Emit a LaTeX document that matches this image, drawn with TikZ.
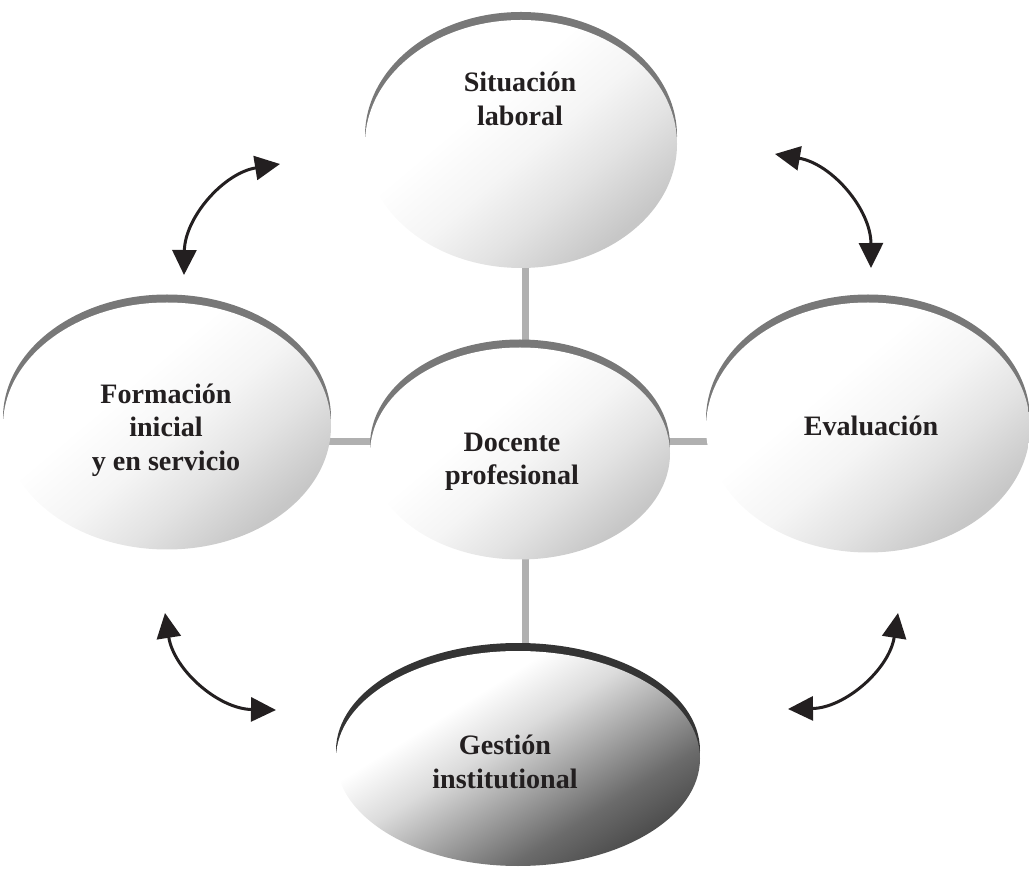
\documentclass[tikz,border=0pt]{standalone}
\usepackage{fontspec}
\setmainfont{Liberation Serif}
\usetikzlibrary{arrows.meta, shapes.geometric, backgrounds}

\definecolor{inkblack}{RGB}{35,31,32}
\definecolor{rimgray}{RGB}{120,120,120}
\definecolor{rimdark}{RGB}{52,52,52}
\definecolor{linkgray}{RGB}{176,176,176}

% soft and deep fills for the ovals
\pgfdeclarehorizontalshading{ovallight}{100bp}{color(0bp)=(white); color(40bp)=(white); color(52bp)=(black!4); color(62bp)=(black!11); color(74bp)=(black!22); color(100bp)=(black!22)}
\pgfdeclarehorizontalshading{ovaldeep}{100bp}{color(0bp)=(white); color(36bp)=(white); color(46bp)=(black!14); color(56bp)=(black!36); color(66bp)=(black!58); color(76bp)=(black!72); color(100bp)=(black!72)}

\tikzset{
    % Shaded ovals with a dark rim along the top
    oval/.style={ellipse, inner sep=0pt, shade, shading=ovallight, shading angle=-50,
                 preaction={fill=#1, transform canvas={yshift=0.16cm}}},
    oval/.default=rimgray,
    % Labels inside the ovals
    ovaltext/.style={font=\fontsize{16}{19}\selectfont\bfseries, text=inkblack, align=center},
    % Spokes to the centre oval
    link/.style={line width=0.14cm, color=linkgray},
    % Curved two-way arrows
    twoway/.style={{Triangle[length=0.5cm, width=0.48cm]}-{Triangle[length=0.5cm, width=0.48cm]},
                   line width=0.06cm, color=inkblack},
}

\begin{document}
\begin{tikzpicture}
\useasboundingbox (0,0) rectangle (20.58,17.4);

% ============================================================
% Ovals
% ============================================================
\node[oval, minimum width=6.24cm, minimum height=4.96cm] (situacion) at (10.42,14.52) {};
\node[oval, minimum width=6.0cm, minimum height=4.24cm] (docente) at (10.4,8.33) {};
\node[oval, minimum width=6.56cm, minimum height=4.94cm] (formacion) at (3.34,8.88) {};
\node[oval, minimum width=6.48cm, minimum height=5.0cm] (evaluacion) at (17.36,8.85) {};
\node[oval=rimdark, shading=ovaldeep, shading angle=-58, minimum width=7.28cm, minimum height=4.3cm] (gestion) at (10.36,2.23) {};

% Labels
\node[ovaltext] (situacion-txt) at (10.4,15.42) {Situación\\laboral};
\node[ovaltext] (docente-txt) at (10.24,8.16) {Docente\\profesional};
\node[ovaltext] (formacion-txt) at (3.32,8.8) {Formación\\inicial\\y en servicio};
\node[ovaltext] (evaluacion-txt) at (17.42,8.88) {Evaluación};
\node[ovaltext] (gestion-txt) at (10.1,2.16) {Gestión\\institutional};

% ============================================================
% Spokes
% ============================================================
\coordinate (hub) at (10.5,8.56);
\begin{scope}[on background layer]
\draw[link] (hub |- situacion) -- (hub |- gestion);
\draw[link] (hub -| formacion) -- (hub -| evaluacion);
\end{scope}

% ============================================================
% Two-way arrows between neighbours
% ============================================================
\coordinate (tl-a) at (3.68,11.9);
\coordinate (tl-b) at (5.6,14.12);
\coordinate (tr-a) at (15.5,14.32);
\coordinate (tr-b) at (17.42,12.04);
\coordinate (bl-a) at (3.3,5.14);
\coordinate (bl-b) at (5.52,3.2);
\coordinate (br-a) at (15.76,3.22);
\coordinate (br-b) at (17.96,5.14);

\draw[twoway] (tl-a) to[bend left=40] (tl-b);
\draw[twoway] (tr-a) to[bend left=40] (tr-b);
\draw[twoway] (bl-a) to[bend right=40] (bl-b);
\draw[twoway] (br-a) to[bend right=40] (br-b);

\end{tikzpicture}
\end{document}
